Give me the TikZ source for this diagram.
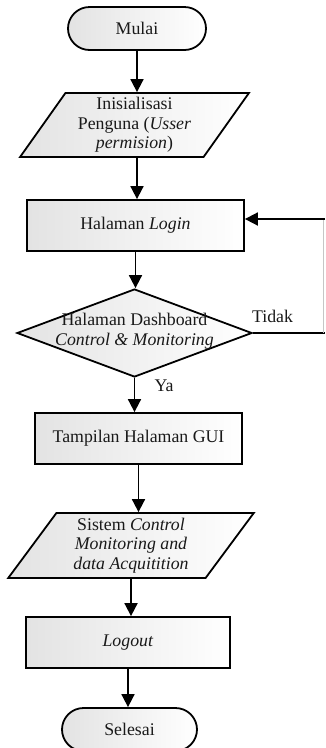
\documentclass[tikz,border=0pt]{standalone}
\usepackage{fontspec}
\setmainfont{Liberation Serif}
\usetikzlibrary{shapes.geometric,shapes.misc,arrows.meta}
\begin{document}
\begin{tikzpicture}[x=1pt,y=1pt,
  txt/.style={font=\fontsize{17.8}{19.5}\selectfont, text=black!90, align=center},
  box/.style={txt, draw, line width=1.8pt, left color=gray!22, right color=white, inner sep=0pt},
  term/.style={box, rounded rectangle, minimum width=138pt, minimum height=43pt},
  proc/.style={box, rectangle, minimum height=51pt},
  io/.style={box, trapezium, trapezium stretches=true, trapezium left angle=56, trapezium right angle=124},
  dec/.style={box, diamond, minimum width=235pt, minimum height=88pt},
  arr/.style={line width=1.8pt, -{Triangle[length=13pt,width=13pt]}},
  ln/.style={line width=1.8pt}
]
\useasboundingbox (0,0) rectangle (325,-748);
\fill[white] (0,0) rectangle (325,-748);

\node[term] (mulai) at (137,-28.5) {Mulai};
\node[io, minimum width=229pt, minimum height=64pt] (init) at (134.5,-125)
  {Inisialisasi\\ Penguna (\textit{Usser}\\ \textit{permision})};
\node[proc, minimum width=217pt] (login) at (135.5,-225.5) {Halaman \textit{Login}};
\node[dec] (dash) at (134.5,-333) {};
\node[txt] (dashtext) at (134.5,-331) {Halaman Dashboard\\ \textit{Control \& Monitoring}};
\node[proc, minimum width=207pt] (gui) at (138.5,-438.5) {Tampilan Halaman GUI};
\node[io, minimum width=246pt, minimum height=65pt] (sistem) at (131,-545.5)
  {Sistem \textit{Control}\\ \textit{Monitoring and}\\ \textit{data Acquitition}};
\node[proc, minimum width=204pt] (logout) at (128,-642.5) {\textit{Logout}};
\node[term, minimum width=135pt] (selesai) at (129.5,-729.5) {Selesai};

\draw[arr] (mulai.south) -- (mulai.south |- init.north);
\draw[arr] (init.south -| 137,0) -- (137,0 |- login.north);
\draw[arr] (login.south) -- (login.south |- dash.north);
\draw[arr] (dash.south) -- (dash.south |- gui.north);
\draw[arr] (gui.south) -- (gui.south |- sistem.north);
\draw[arr] (sistem.south) -- (sistem.south |- logout.north);
\draw[arr] (logout.south) -- (logout.south |- selesai.north);

\coordinate (fb) at (323.5,-219);
\draw[ln] (dash.east) -- (dash.east -| 325,0);
\draw[line width=0.6pt, gray!45] (dash.east -| fb) -- (fb);
\draw[arr] (325,-219) -- (fb -| login.east);

\node[txt] (tidak) at (272.5,-316) {Tidak};
\node[txt] (ya) at (164,-386) {Ya};
\end{tikzpicture}
\end{document}
